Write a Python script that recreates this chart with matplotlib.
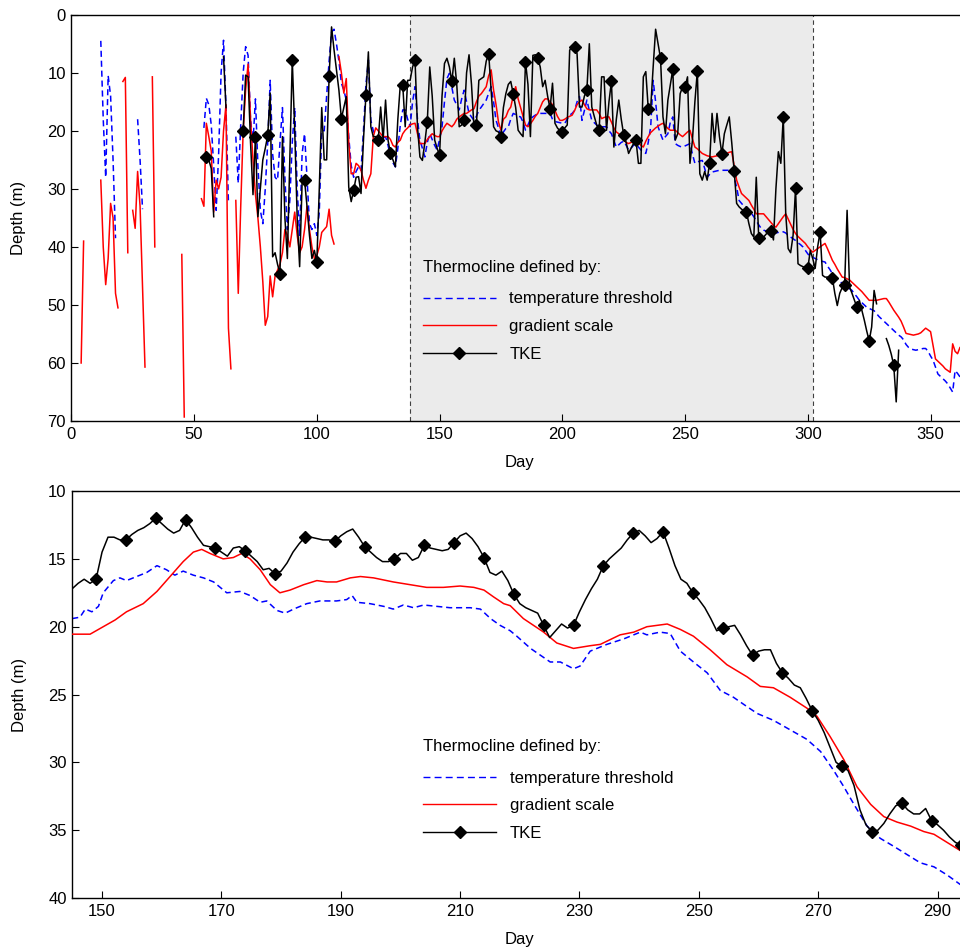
import numpy as np
import matplotlib
matplotlib.use("Agg")
import matplotlib.pyplot as plt
from matplotlib.lines import Line2D

plt.rcParams["font.family"] = ["Liberation Sans", "DejaVu Sans"]
plt.rcParams["font.size"] = 12

# --- top panel: whole year, daily values, (start day, values) segments ---
TEMP_TOP = [
    (12, [4.5, 18, 28, 10.5, 14, 25, 38.5]),
    (27, [18, 25, 33.5]),
    (54, [19.5, 14.4, 15.5, 19, 26, 33.7, 24, 10, 4.4, 15.9, 32.5]),
    (67, [21, 29, 19, 10, 5.5, 7, 18, 22, 14.5, 26,
          33.7, 36, 30, 22, 11.3, 24, 28, 28.5, 22, 16,
          28, 37, 32, 22, 16, 30, 38, 24, 20.5, 28,
          36, 37, 36, 38, 34, 20, 20, 14, 8, 3,
          2.5,
          5, 8, 11.8, 13, 14.7, 21, 26, 28, 27, 26.2,
          26.8, 20, 12, 7.8, 18.2, 20, 21, 21.3, 21.6, 21.3,
          21, 22.5, 24.5, 25.5, 26.2, 23, 19, 16.4, 16.4, 18,
          19.3, 15, 12.4, 18, 21.6, 23, 24.5, 22, 20.5, 21.5,
          22.5, 23.3, 21.5, 19.3, 15, 11, 10.1, 12.5, 14.7, 15.5,
          16.4, 14.5, 13, 15, 17, 17.6, 18.2, 17.5, 16.5, 15.9,
          15.3, 14.7, 13.5, 12.4, 15, 18.2, 19.5, 21, 20.2, 19.6,
          19.3, 18, 17, 17.2, 17.5, 17.6, 18.5, 19.9, 19, 18,
          17.6, 17.3, 17.1, 17, 17, 17, 17, 17, 18, 18.4,
          18.5, 18.6, 18.7, 18.7, 18, 17.3, 17, 16.5, 15, 14.1,
          18.2, 16.5, 14.7, 16.5, 18.2, 18.6, 19, 19.3, 19.3, 19.3,
          19.3, 20, 20.5, 21.7, 22.8, 22.4, 22, 21.8, 22.5, 23.3,
          23, 22.5, 22.2, 22.8, 23.3, 23.6, 23.9, 22, 19.3, 11.3,
          15, 19.3, 20.5, 21.6, 21, 20.5, 18.5, 17.6, 22.2, 22.5,
          22.7, 22.8, 22.6, 22.4, 22.2, 24, 25.6, 25.4, 25.2, 25.1,
          26.5, 28, 27.5, 27.1, 27, 26.9, 26.8, 26.8, 26.8, 26.8,
          26.8, 26.8, 28, 29.7, 32, 32.5, 33, 33.1, 33.6, 34.2,
          34.8, 35.5, 36.2, 36.8, 37.1, 37.3, 37.5, 37.6, 37.7, 37.6,
          37.5, 37.4, 37.4, 37.6, 38, 38.3, 38.6, 38.9, 39.3, 39.6,
          40, 40.6, 41.2, 41.7, 41.8, 42, 42.2, 42.4, 42.5, 42.6,
          43.3, 43.9, 44.6, 45, 45.5, 45.9, 46.3, 46.6, 46.9, 47.2,
          47.5, 48.1, 48.6, 49.2, 49.6, 50, 50.4, 50.6, 50.8, 51,
          51.5, 52, 52.4, 52.8, 53.2, 53.6, 54, 54.4, 54.8, 55.2,
          55.5, 56, 56.8, 57.3, 57.6, 57.7, 57.8, 57.7, 57.6, 57.5,
          57.5, 58, 58.8, 59.5, 60.7, 61.9, 62.3, 62.7, 63.1, 63.6,
          64.3, 65, 61.3, 61.8, 62.4, 62.5, 62.8, 63]),
]

GRAD_TOP = [
    (4, [60, 39]),
    (12, [28.5, 40, 46.5, 42, 32.5, 35, 48, 50.5]),
    (21, [11.5, 10.8, 41]),
    (25, [33.7, 36.8, 27, 33, 47, 60.7]),
    (33, [10.7, 40]),
    (45, [41.3, 69.3]),
    (53, [31.7, 33, 18.7, 21, 23.5, 34, 28.5, 30, 28, 20, 15.5, 54, 61]),
    (67, [32, 48, 33, 20, 13, 8.5, 18, 25, 31, 35,
          40, 46, 53.5, 52, 45, 48.6, 45, 44, 43, 41,
          37, 38, 40, 37, 34, 38, 41, 40, 37, 33,
          37, 40, 42, 41.5, 40, 37.5, 37, 36.5, 33.5, 38,
          39.5]),
    (109, [7.2, 10, 13.5, 11, 22, 27.4, 27.4, 25.6, 26, 26.8,
           28.5, 29.9, 28.5, 27.4, 21, 19.5, 20, 20.5, 21, 21,
           21, 21.5, 22.5, 22.8, 22, 21.6, 20.5, 19.9, 19.5, 19,
           18.8, 18.7, 20.5, 22.2, 22.2, 22.2, 21.5, 21, 20.5, 20.8,
           21, 21, 20, 19.3, 18.7, 19, 19.3, 18.8, 18, 17.6,
           17.3, 17, 17, 16.7, 16.4, 16.2, 15, 14, 13.6, 13,
           12.4, 10.5, 9.5, 13, 15.5, 18.5, 19.9, 18, 17.6, 16.5,
           15.9, 14, 12.4, 14.5, 16, 17.5, 19, 19.3, 18.8, 18.2,
           17.5, 17, 16, 15, 14.5, 14.5, 15, 15.5, 16.5, 17.5,
           18.2, 18.2, 18, 17.7, 17.5, 17.3, 16.5, 15.5, 15, 14.7,
           15.5, 16.2, 16.4, 16.4, 16.4, 16.4, 17, 17.9, 17.7, 17.6,
           17.6, 18.5, 19.5, 20.2, 20.5, 21, 21.6, 22, 22.2, 22,
           21.8, 21.6, 22, 22.5, 22.8, 21.8, 21, 20.3, 19.9, 19.5,
           19.2, 18.9, 18.7, 19.1, 19.6, 19.9, 19.9, 19.9, 20.3, 20.7,
           21, 20.6, 20.2, 19.9, 21.4, 22.8, 23.1, 23.5, 23.9, 24.1,
           24.3, 24.4, 24.5, 24.4, 24.3, 24.3, 24.2, 24, 23.9, 23.7,
           23.6, 26, 28.5, 29.7, 30.8, 31.2, 31.6, 32, 32.8, 33.5,
           34.3, 34.3, 34.3, 34.3, 34.8, 35.3, 35.8, 36.3, 36.6, 36,
           35.4, 34.8, 34.3, 35.2, 36.1, 37, 37.7, 38.2, 38.6, 39,
           39.4, 40, 40.5, 40.9, 40.6, 40.3, 40, 39.7, 39.4, 40.3,
           41.3, 42.3, 43, 43.8, 44.5, 45.2, 45.3, 45.5, 45.7, 46.1,
           46.5, 46.9, 47.3, 47.7, 48.2, 48.7, 49.2, 49.2, 49.2, 49.2,
           49.1, 49, 48.9, 48.9, 49.5, 50.2, 50.9, 51.5, 52.1, 52.8,
           53.8, 54.9, 55, 55.1, 55.2, 55.1, 55, 54.8, 54.4, 54,
           54.3, 54.6, 57, 59.3, 59.7, 60.1, 60.5, 61, 61.3, 61.6,
           56.7, 58, 58.4, 57.3, 57.5, 57.8, 58]),
]

TKE_TOP = [
    (55, [24.5, 25, 26.5, 34.8]),
    (62, [7.2, 16]),
    (70, [20, 10.4, 10.7, 22, 31, 21, 34.8, 30, 25, 23,
          20.8, 13.5, 41.7, 41, 43, 44.6, 21, 35, 42, 25,
          7.8, 20, 35, 43.4, 29, 28.5, 33, 38, 42, 40.6,
          42.6, 30, 16, 25, 25, 10.6, 2.1, 6, 9.5, 13,
          17.9, 16, 14.1, 29.7, 32.2, 30.2, 28, 27.9, 30.8, 21.6,
          13.8, 6.4, 19.3, 21, 21, 21.6, 15.9, 21.6, 14.7, 21.6,
          23.9, 25, 26.2, 18, 12.1, 12.1, 19.3, 11.3, 11.3, 9,
          7.8, 19.3, 24.5, 25.1, 22, 18.4, 9, 14, 21.6, 23,
          24.2, 14, 8.4, 7.5, 9, 11.5, 7.5, 12, 19.3, 19,
          18.2, 10, 6.9, 12, 19.3, 19, 11.3, 11, 10.7, 8,
          6.7, 13, 19.3, 20, 20.2, 21, 16, 13.6, 12, 11.5,
          13.6, 16, 19.9, 20.5, 21, 8.1, 12, 21, 7, 6.9,
          7.5, 9, 12.4, 11.3, 14, 16.2, 11.8, 18.7, 19.5, 20,
          20.2, 19.5, 19, 6.1, 5.5, 5.5, 6.7, 15.9, 15.9, 14,
          13, 5, 15.9, 17.5, 19, 19.9, 10.7, 10.7, 19.9, 15,
          11.5, 22.8, 18, 14.7, 18, 20.7, 22, 23.9, 23, 22.2,
          21.6, 25.6, 25.6, 10.7, 9.8, 16.2, 16, 9, 2.5, 5,
          7.5, 17.6, 20.5, 14.7, 12, 9.4, 21.6, 20.5, 13.6, 12.4,
          12.4, 10.7, 25.6, 21.6, 15, 9.7, 27.4, 28.5, 27, 28.5,
          25.5, 17, 22, 17, 21, 24, 20.5, 19, 17.6, 22,
          26.9, 32.5, 33.1, 33.5, 33.8, 34, 36, 37.7, 38.3, 28,
          38.4, 38.8, 38.3, 37.8, 37.5, 37.2, 38.8, 30, 23.6, 25.6,
          17.6, 34.3, 40.3, 41, 38, 29.9, 42.9, 43.2, 43.4, 43.6,
          43.7, 40.6, 42, 43.7, 40, 37.4, 44.9, 45.2, 45.2, 45.3,
          45.3, 48, 50.1, 48, 47, 46.5, 33.7, 46.9, 48, 49.2,
          50.4, 49.2, 50.9, 52.6, 54.5, 56.2, 53.8, 47.5, 49.8]),
    (332, [55.8, 57, 58.5, 60.4, 66.7, 57.8]),
]

STRAT_START, STRAT_END = 138, 302

# --- bottom panel: smoothed, days 145-295 ---
TEMP_BOT_DAYS = [145, 146.3, 147.2, 148.3, 149.4, 150.2, 151.9, 153, 154.1, 155.8,
                 157.5, 159.2, 160.8, 162.2, 163.6, 165.3, 167, 168.7, 170.9, 173.1,
                 174.8, 176.5, 177.6, 179.3, 180.7, 182.1, 184.3, 186.5, 189.3, 191,
                 191.9, 192.7, 194.9, 197.2, 198.8, 200.5, 202.2, 203.9, 206.1, 208.3,
                 211.7, 213.4, 215.1, 216.7, 218.4, 219.5, 221.8, 225.1, 226.8, 229,
                 230.1, 231.8, 234.6, 237.4, 240.2, 241.3, 243.5, 245.2, 246.9, 249.1,
                 251.4, 253.6, 255.8, 258.1, 259.8, 262.5, 265.3, 268.1, 270.4, 272.6,
                 274.3, 276, 278.2, 280.4, 282.7, 284.9, 287.1, 289.4, 291.6, 293.8, 295]
TEMP_BOT = [19.4, 19.3, 18.7, 18.9, 18.5, 17.5, 16.6, 16.4, 16.6, 16.3,
            16, 15.5, 15.8, 16.2, 15.9, 16.2, 16.4, 16.7, 17.5, 17.4,
            17.7, 18.2, 18.1, 18.8, 19, 18.7, 18.3, 18.1, 18.1, 18,
            17.7, 18.2, 18.3, 18.5, 18.7, 18.4, 18.6, 18.4, 18.5, 18.6,
            18.6, 18.7, 19.4, 19.9, 20.3, 20.7, 21.6, 22.6, 22.6, 23.1,
            22.9, 21.8, 21.3, 20.9, 20.4, 20.6, 20.4, 20.5, 21.8, 22.6,
            23.4, 24.7, 25.2, 25.9, 26.4, 26.9, 27.6, 28.3, 29.2, 30.6,
            31.8, 33.1, 34.7, 35.6, 36.2, 36.8, 37.4, 37.7, 38.3, 39, 39.2]

GRAD_BOT_DAYS = [145, 148, 150.2, 152.2, 154.1, 156.9, 159.2, 161.4, 163.6, 165.3,
                 166.7, 168.1, 170.3, 172, 173.4, 174.8, 176.5, 178.2, 179.8, 181.5,
                 183.8, 186, 187.7, 189.3, 191.6, 193.3, 195.5, 198.8, 201.6, 204.4,
                 207.2, 210, 212.3, 214, 215.6, 217.3, 218.4, 220.6, 224, 226.2,
                 229, 231.8, 233.5, 236.8, 239.1, 241.3, 244.7, 246.9, 249.1, 251.9,
                 254.7, 258.1, 260.3, 262.5, 265.3, 268.1, 269.8, 272, 274.3, 276.5,
                 278.8, 281, 283.2, 285.5, 287.7, 289.4, 291.6, 293.8, 295]
GRAD_BOT = [20.55, 20.55, 20, 19.5, 18.9, 18.3, 17.4, 16.3, 15.2, 14.5,
            14.3, 14.6, 15, 14.9, 14.6, 15, 15.8, 16.9, 17.5, 17.3,
            16.9, 16.6, 16.7, 16.7, 16.4, 16.3, 16.4, 16.7, 16.9, 17.1,
            17.1, 17, 17.1, 17.3, 17.8, 18.3, 18.45, 19.4, 20.4, 21.2,
            21.6, 21.4, 21.3, 20.6, 20.4, 20, 19.8, 20.2, 20.7, 21.7,
            22.8, 23.7, 24.4, 24.5, 25.2, 26, 26.6, 28.1, 29.8, 31.8,
            33.1, 34, 34.4, 34.7, 35.1, 35.3, 35.9, 36.5, 36.8]

TKE_BOT_START = 145
TKE_BOT = [17.2, 16.8, 16.5, 16.8, 16.5, 14.5, 13.4, 13.4, 13.6, 13.6,
           13.2, 12.9, 12.7, 12.4, 12, 12.4, 12.8, 13.1, 12.9, 12.1,
           12.7, 13.4, 14, 14.1, 14.2, 14.5, 14.8, 14.2, 14.1, 14.4,
           14.8, 15.2, 15.8, 15.7, 16.1, 15.9, 15.3, 14.5, 13.9, 13.4,
           13.4, 13.5, 13.6, 13.6, 13.7, 13.3, 13, 12.8, 13.4, 14.1,
           14.5, 14.9, 15.2, 15.2, 15, 14.6, 14.6, 15.1, 14.9, 14,
           14.2, 14.3, 14.4, 14.3, 13.8, 13.3, 13.1, 13.5, 14.1, 14.9,
           16, 16.2, 15.9, 16.6, 17.6, 18.3, 18.6, 18.8, 19, 19.9,
           20.8, 20.3, 19.8, 20.1, 19.9, 18.9, 18, 17.2, 16.5, 15.5,
           15, 14.6, 14.2, 13.6, 13.1, 12.9, 13.3, 13.8, 13.5, 13,
           14.2, 15.5, 16.5, 16.8, 17.5, 18, 18.6, 19.4, 20.3, 20.1,
           20, 19.9, 20.6, 21.4, 22.1, 21.8, 21.7, 21.7, 22.7, 23.4,
           23.8, 24.3, 24.5, 25.3, 26.2, 26.9, 27.8, 28.9, 30, 30.3,
           30.6, 31.7, 33.5, 34.6, 35.1, 35, 34.5, 33.8, 33.2, 33,
           33.5, 33.8, 33.8, 33.4, 34.3, 34.6, 35, 35.5, 35.9, 36.1, 36.4]

LABELS = ["temperature threshold", "gradient scale", "TKE"]
BLUE, RED = "#0000ff", "#ff0000"


def join(segments):
    xs, ys = [], []
    for start, vals in segments:
        xs += list(range(start, start + len(vals))) + [np.nan]
        ys += list(vals) + [np.nan]
    return np.array(xs, float), np.array(ys, float)


def style_axes(ax):
    ax.tick_params(direction="in", length=5, width=0.8, top=False, right=False,
                   labelsize=12, pad=4)
    for s in ax.spines.values():
        s.set_linewidth(1.0)
    ax.set_xlabel("Day", labelpad=10)
    ax.set_ylabel("Depth (m)", labelpad=15)


def add_legend(ax, anchor):
    handles = [
        Line2D([], [], color=BLUE, lw=1.0, dashes=(5, 3)),
        Line2D([], [], color=RED, lw=1.0),
        Line2D([], [], color="black", lw=1.0, marker="D", ms=6.5),
    ]
    leg = ax.legend(handles, LABELS, title="Thermocline defined by:",
                    loc="upper left", bbox_to_anchor=anchor, frameon=False,
                    borderaxespad=0, borderpad=0, handlelength=4.4,
                    handletextpad=0.8, labelspacing=0.76, alignment="left",
                    fontsize=12, title_fontsize=12)
    leg._legend_box.sep = 12


fig = plt.figure(figsize=(9.6, 9.5), dpi=100)
ax1 = fig.add_axes([0.0743, 0.5568, 0.9334, 0.4277])
ax2 = fig.add_axes([0.0752, 0.0547, 0.9325, 0.4284])

# top panel
ax1.axvspan(STRAT_START, STRAT_END, color="#ebebeb", zorder=0, lw=0)
for d in (STRAT_START, STRAT_END):
    ax1.axvline(d, color="#404040", lw=0.8, dashes=(4, 3), zorder=1)

x, y = join(TEMP_TOP)
ax1.plot(x, y, color=BLUE, lw=1.1, dashes=(4, 2.5), zorder=2)
x, y = join(GRAD_TOP)
ax1.plot(x, y, color=RED, lw=1.1, zorder=3)
x, y = join(TKE_TOP)
marks = [(not np.isnan(d)) and int(d) % 5 == 0 for d in x]
ax1.plot(x, y, color="black", lw=1.1, marker="D", ms=6.5, markevery=marks, zorder=4)

ax1.set_xlim(0, 365)
ax1.set_ylim(70, 0)
ax1.set_xticks(np.arange(0, 351, 50))
ax1.set_yticks(np.arange(0, 71, 10))
style_axes(ax1)
add_legend(ax1, (0.392, 0.397))

# bottom panel
ax2.plot(TEMP_BOT_DAYS, TEMP_BOT, color=BLUE, lw=1.1, dashes=(4, 2.5), zorder=2)
ax2.plot(GRAD_BOT_DAYS, GRAD_BOT, color=RED, lw=1.1, zorder=3)
tke_days = np.arange(TKE_BOT_START, TKE_BOT_START + len(TKE_BOT))
ax2.plot(tke_days, TKE_BOT, color="black", lw=1.1, marker="D", ms=6.5,
         markevery=list((tke_days - 149) % 5 == 0), zorder=4)

ax2.set_xlim(145, 295)
ax2.set_ylim(40, 10)
ax2.set_xticks(np.arange(150, 291, 20))
ax2.set_yticks(np.arange(10, 41, 5))
style_axes(ax2)
add_legend(ax2, (0.392, 0.391))

fig.savefig("out.png", dpi=100)
